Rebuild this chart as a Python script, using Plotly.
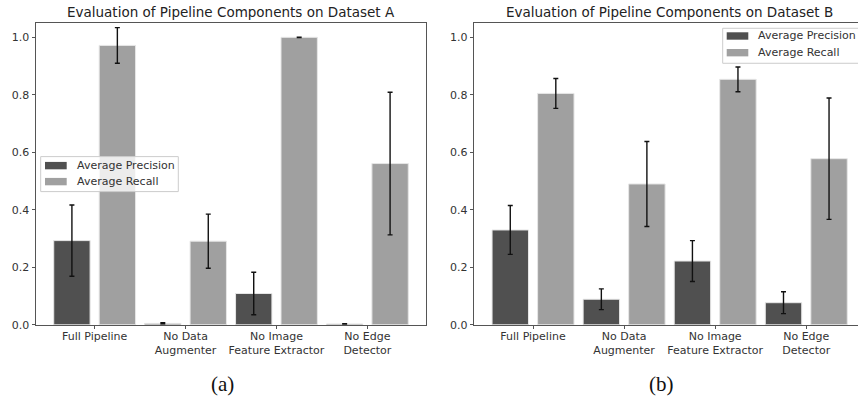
import plotly.graph_objects as go

categories = ["Full Pipeline", "No Data<br>Augmenter", "No Image<br>Feature Extractor", "No Edge<br>Detector"]
series_names = ["Average Precision", "Average Recall"]

# Dataset A
prec_a = [0.293, 0.005, 0.109, 0.003]
prec_a_err = [0.124, 0.002, 0.074, 0.001]
rec_a = [0.972, 0.291, 1.000, 0.561]
rec_a_err = [0.062, 0.094, 0.001, 0.248]

# Dataset B
prec_b = [0.330, 0.089, 0.222, 0.077]
prec_b_err = [0.085, 0.036, 0.071, 0.038]
rec_b = [0.805, 0.490, 0.854, 0.578]
rec_b_err = [0.052, 0.148, 0.043, 0.211]

titles = ["Evaluation of Pipeline Components on Dataset A",
          "Evaluation of Pipeline Components on Dataset B"]
captions = ["(a)", "(b)"]
y_ticks = [0.0, 0.2, 0.4, 0.6, 0.8, 1.0]

DARK = "#505050"
LIGHT = "#a0a0a0"
COLORS = [DARK, LIGHT]
FONT = "DejaVu Sans"
W, H = 858, 400
SY = 0.983  # vertical correction observed in the rendered picture

fig = go.Figure()

def err(vals):
    return dict(type="data", array=vals, visible=True, color="#111111", thickness=1.4, width=2.5)

panels = [
    dict(prec=prec_a, perr=prec_a_err, rec=rec_a, rerr=rec_a_err, xa="x", ya="y"),
    dict(prec=prec_b, perr=prec_b_err, rec=rec_b, rerr=rec_b_err, xa="x2", ya="y2"),
]
for p in panels:
    fig.add_trace(go.Bar(x=categories, y=p["prec"], error_y=err(p["perr"]), name=series_names[0],
                         marker=dict(color=DARK, line=dict(color="#e6e6e6", width=1)),
                         width=0.4, offset=-0.45, xaxis=p["xa"], yaxis=p["ya"], showlegend=False))
    fig.add_trace(go.Bar(x=categories, y=p["rec"], error_y=err(p["rerr"]), name=series_names[1],
                         marker=dict(color=LIGHT, line=dict(color="#e6e6e6", width=1)),
                         width=0.4, offset=0.05, xaxis=p["xa"], yaxis=p["ya"], showlegend=False))

def px(x):
    return x / W

def py(y):
    return 1 - (y / SY) / H

y_dom = [py(325), py(23)]
axis_common = dict(showgrid=False, zeroline=False, showline=True, linecolor="#555555", linewidth=1,
                   ticks="outside", ticklen=3.5, tickcolor="#555555",
                   tickfont=dict(family=FONT, size=11, color="#333333"))

fig.update_layout(
    width=W, height=H, margin=dict(l=0, r=0, t=0, b=0),
    paper_bgcolor="white", plot_bgcolor="white",
    barmode="overlay", showlegend=False,
    font=dict(family=FONT, size=11, color="#333333"),
    xaxis=dict(domain=[px(36), px(426)], range=[-0.645, 3.645], mirror=True, anchor="y",
               ticklabelstandoff=-3, **axis_common),
    yaxis=dict(domain=y_dom, range=[0, 1.05], mirror=True, anchor="x", tickvals=y_ticks,
               tickformat=".1f", **axis_common),
    xaxis2=dict(domain=[px(474.3), 1.0], range=[-0.645, 3.568], mirror=True, anchor="y2",
                ticklabelstandoff=-3, **axis_common),
    yaxis2=dict(domain=y_dom, range=[0, 1.05], mirror=False, anchor="x2", tickvals=y_ticks,
                tickformat=".1f", **axis_common),
)

# custom legends (box, patches, labels), positions in pixels
legends = [
    dict(box=(40.7, 156.7, 178.3, 191.7), px0=45, px1=66.7, tx=76, rows=[165.7, 181.7]),
    dict(box=(722.7, 28.3, 870, 63.3), px0=726.7, px1=748.3, tx=757, rows=[36.0, 52.7]),
]
for lg in legends:
    x0, y0, x1, y1 = lg["box"]
    fig.add_shape(type="rect", xref="paper", yref="paper", x0=px(x0), x1=px(x1), y0=py(y1), y1=py(y0),
                  line=dict(color="#cccccc", width=1), fillcolor="rgba(255,255,255,0.8)", layer="above")
    for name, color, yc in zip(series_names, COLORS, lg["rows"]):
        fig.add_shape(type="rect", xref="paper", yref="paper", x0=px(lg["px0"]), x1=px(lg["px1"]),
                      y0=py(yc + 3.7), y1=py(yc - 3.7), line=dict(width=0), fillcolor=color, layer="above")
        fig.add_annotation(text=name, x=px(lg["tx"]), y=py(yc), xref="paper", yref="paper",
                           showarrow=False, xanchor="left", yanchor="middle", xshift=-1,
                           font=dict(family=FONT, size=11, color="#333333"))

centers = [231, 669.7]
cap_centers = [222.5, 661.5]
for i in range(2):
    fig.add_annotation(text=titles[i], x=px(centers[i]), y=py(12), xref="paper", yref="paper",
                       showarrow=False, xanchor="center", yanchor="middle",
                       font=dict(family=FONT, size=13.5, color="#222222"))
    fig.add_annotation(text=captions[i], x=px(cap_centers[i]), y=py(384), xref="paper", yref="paper",
                       showarrow=False, xanchor="center", yanchor="middle",
                       font=dict(family="Liberation Serif", size=21, color="#111111"))

post = ("var s='margin:0;padding:0;overflow:hidden;width:858px;height:400px;';"
        "document.documentElement.style.cssText=s;document.body.style.cssText=s;")
fig.write_html("out.html", config={"displayModeBar": False}, post_script=post)
